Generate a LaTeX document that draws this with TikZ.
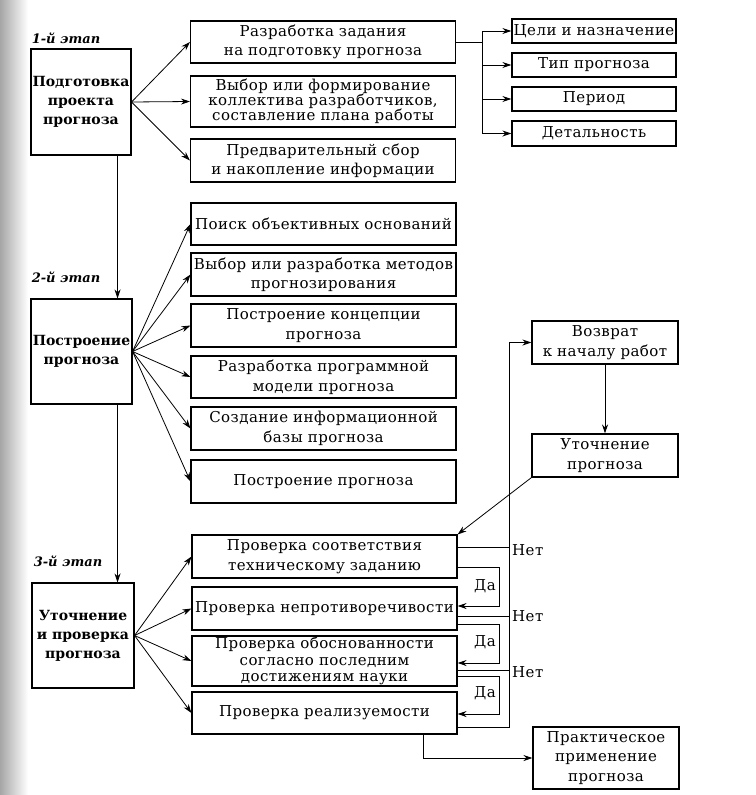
\documentclass[tikz,border=0pt]{standalone}
\usepackage{fontspec}
\setmainfont{DejaVu Serif}
\newfontfamily\boxfont{DejaVu Serif}[LetterSpace=3]
\usetikzlibrary{arrows.meta,calc}
\begin{document}
\begin{tikzpicture}[x=1pt,y=-1pt,
  box/.style={draw, line width=1.1pt, inner sep=1pt, align=center, font=\boxfont\fontsize{15}{19.5}\selectfont},
  lbox/.style={box, font=\bfseries\fontsize{14}{19}\selectfont, text width=98pt},
  mbox/.style={box, minimum width=265pt, text width=260pt},
  rbox/.style={box, minimum width=164pt, minimum height=24pt, text width=162pt},
  vbox/.style={box, minimum width=146pt, text width=142pt},
  stage/.style={font=\bfseries\itshape\fontsize{13}{15}\selectfont, inner sep=0pt},
  lab/.style={font=\boxfont\fontsize{15}{17}\selectfont, inner sep=0pt},
  arr/.style={line width=0.8pt, -{Stealth[length=9pt,width=6pt]}},
  ln/.style={line width=0.8pt}
]
\useasboundingbox (0,0) rectangle (755,795);
\shade[left color=black!35, right color=white] (0,0) rectangle (28,795);
% stage labels
\node[stage] (s1) at (66,38) {1-й этап};
\node[stage] (s2) at (66,277) {2-й этап};
\node[stage] (s3) at (68,561) {3-й этап};
% left boxes
\node[lbox, minimum width=100pt, minimum height=106pt] (b1) at (81,102) {Подготовка\\проекта\\прогноза};
\node[lbox, minimum width=101pt, minimum height=105pt] (b2) at (81.5,351.5) {Построение\\прогноза};
\node[lbox, minimum width=102pt, minimum height=105pt] (b3) at (83,635.5) {Уточнение\\и проверка\\прогноза};
% group 1
\node[mbox, minimum height=42pt] (m1) at (323,42) {Разработка задания\\на подготовку прогноза};
\node[mbox, minimum height=51pt, font=\boxfont\fontsize{15}{15}\selectfont] (m2) at (323,101.5) {Выбор или формирование\\коллектива разработчиков,\\составление плана работы};
\node[mbox, minimum height=43pt] (m3) at (323,160.5) {Предварительный сбор\\и накопление информации};
% right list
\node[rbox] (r1) at (594,31) {Цели и назначение};
\node[rbox] (r2) at (594,65) {Тип прогноза};
\node[rbox] (r3) at (594,99) {Период};
\node[rbox, minimum height=25pt] (r4) at (594,133.5) {Детальность};
% group 2
\node[mbox, minimum height=42pt] (p1) at (323.5,224) {Поиск объективных оснований};
\node[mbox, minimum height=43pt] (p2) at (323.5,274.5) {Выбор или разработка методов\\прогнозирования};
\node[mbox, minimum height=43pt] (p3) at (323.5,325.5) {Построение концепции\\прогноза};
\node[mbox, minimum height=42pt] (p4) at (323.5,377) {Разработка программной\\модели прогноза};
\node[mbox, minimum height=43pt] (p5) at (323.5,428.5) {Создание информационной\\базы прогноза};
\node[mbox, minimum height=43pt] (p6) at (323.5,481.5) {Построение прогноза};
% group 3
\node[mbox, minimum height=43pt] (q1) at (324.5,556.5) {Проверка соответствия\\техническому заданию};
\node[mbox, minimum height=43pt] (q2) at (324.5,608.5) {Проверка непротиворечивости};
\node[mbox, minimum height=48pt, font=\boxfont\fontsize{15}{16.5}\selectfont] (q3) at (324.5,661) {Проверка обоснованности\\согласно последним\\достижениям науки};
\node[mbox, minimum height=42pt] (q4) at (324.5,713) {Проверка реализуемости};
% right side
\node[vbox, minimum height=43pt] (v1) at (605,342.5) {Возврат\\к началу работ};
\node[vbox, minimum height=43pt] (v2) at (605,455.5) {Уточнение\\прогноза};
\node[vbox, minimum height=62pt] (f) at (606,758) {Практическое\\применение\\прогноза};
% stage connectors
\draw[arr] ([xshift=-14pt]b1.south east) -- ([xshift=-15pt]b2.north east);
\draw[arr] ([xshift=-15pt]b2.south east) -- ([xshift=-17pt]b3.north east);
% fans
\foreach \t in {m1,m2,m3} \draw[arr] (b1.east) -- (\t.west);
\foreach \t in {p1,p2,p3,p4,p5,p6} \draw[arr] (b2.east) -- (\t.west);
\foreach \t in {q1,q2,q3,q4} \draw[arr] (b3.east) -- (\t.west);
% right list tree
\coordinate (t) at (482,42);
\draw[ln] (m1.east) -- (t);
\foreach \t in {r1,r2,r3,r4} \draw[arr] (t) |- (\t.west);
% check loop
\coordinate (tb) at (509,727);
\coordinate (dx) at (499,0);
\draw[arr] (q4.east |- tb) -- (tb) |- (v1.west);
\draw[arr] (v1.south) -- (v2.north);
\draw[arr] (v2.south west) -- (q1.north east);
% Net lines
\draw[ln] ($(q1.east)+(0,-9.5)$) coordinate (n1) -- (n1 -| tb);
\draw[ln] ($(q2.east)+(0,7.5)$) coordinate (n2) -- (n2 -| tb);
\draw[ln] ($(q3.east)+(0,9)$) coordinate (n3) -- (n3 -| tb);
\node[lab, anchor=west] (ln1) at ($(n1 -| tb)+(3,3)$) {Нет};
\node[lab, anchor=west] (ln2) at ($(n2 -| tb)+(3,0)$) {Нет};
\node[lab, anchor=west] (ln3) at ($(n3 -| tb)+(3,2)$) {Нет};
% Da loops
\draw[arr] ($(q1.east)+(0,10.5)$) coordinate (d1) -- (d1 -| dx) |- ($(q2.east)+(0,-2.5)$);
\draw[arr] ($(q2.east)+(0,15.5)$) coordinate (d2) -- (d2 -| dx) |- ($(q3.east)+(0,2)$);
\draw[arr] ($(q3.east)+(0,15)$) coordinate (d3) -- (d3 -| dx) |- ($(q4.east)+(0,1)$);
\node[lab] (ld1) at (485,586) {Да};
\node[lab] (ld2) at (485,642) {Да};
\node[lab] (ld3) at (485,693) {Да};
% final
\coordinate (fx) at (423,758);
\draw[arr] (q4.south -| fx) -- (fx) -- (f.west);
\end{tikzpicture}
\end{document}
